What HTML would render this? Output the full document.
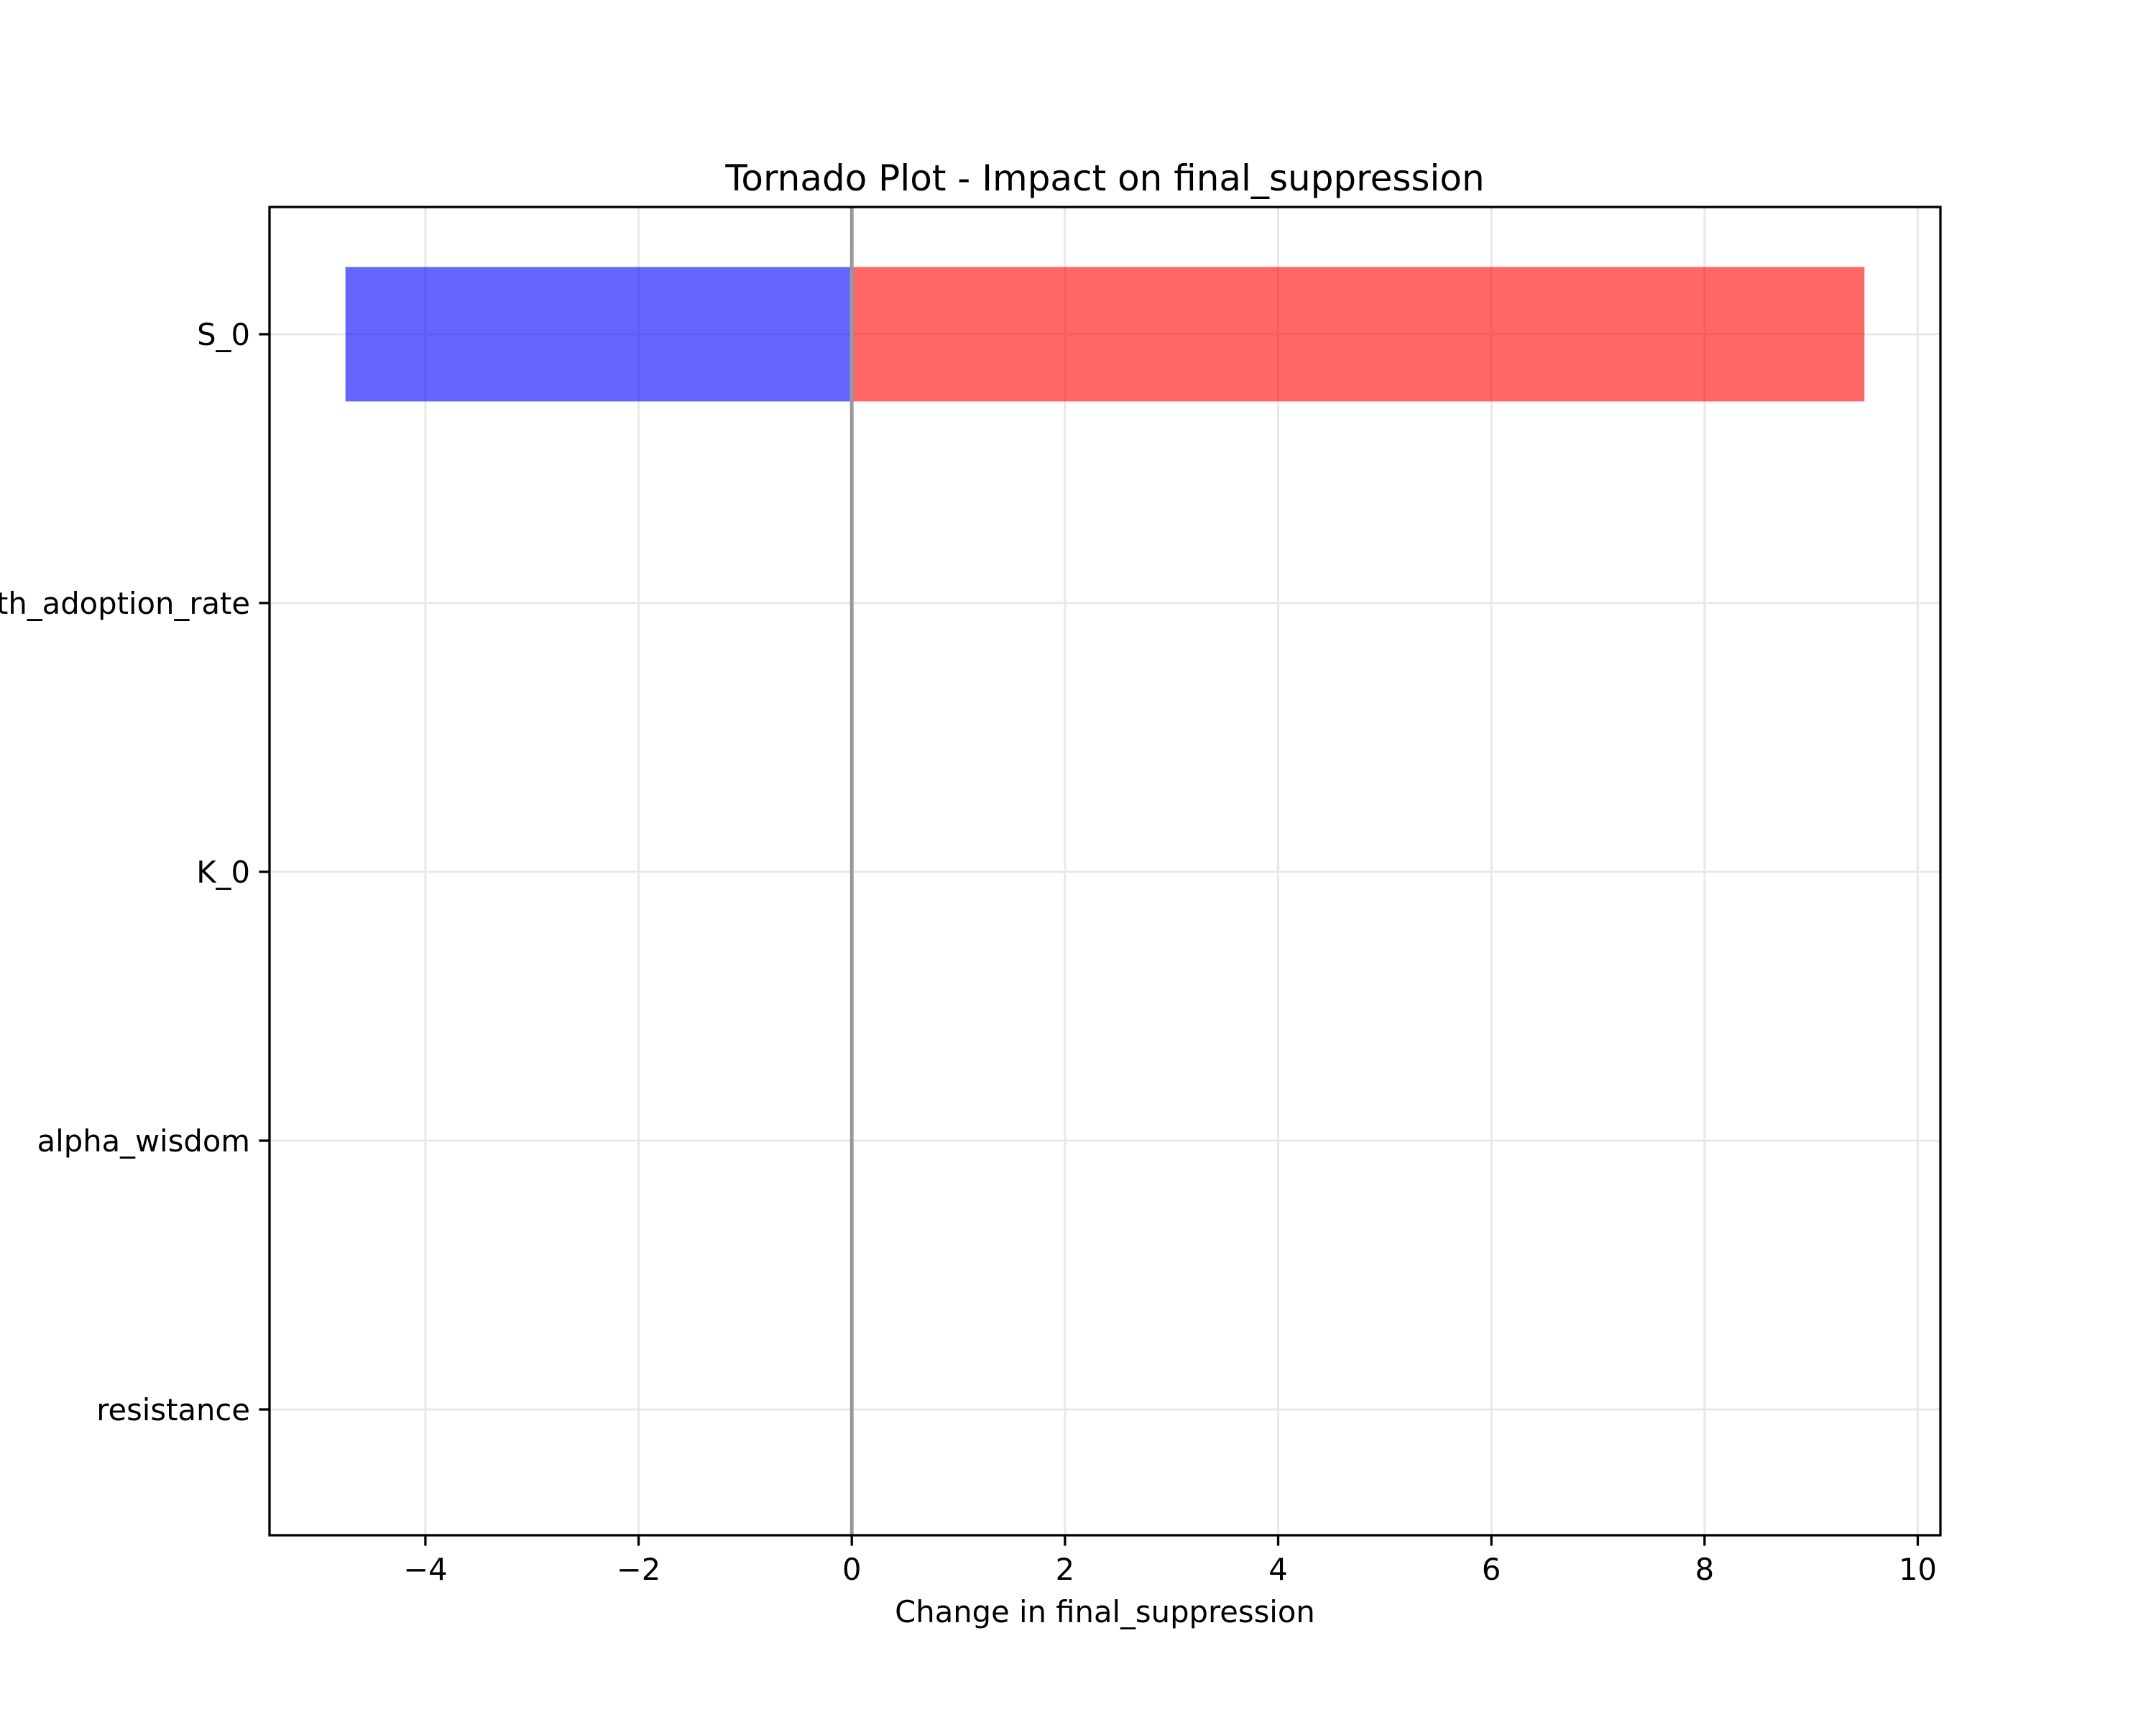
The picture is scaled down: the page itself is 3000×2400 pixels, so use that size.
<!DOCTYPE html>
<html><head><meta charset="utf-8"><style>
html,body{margin:0;padding:0;background:#fff}
svg{display:block}
text{font-family:"DejaVu Sans","Liberation Sans",sans-serif;fill:#000}
</style></head><body>
<svg id="chart" width="3000" height="2400" viewBox="0 0 3000 2400" xmlns="http://www.w3.org/2000/svg">
<rect width="3000" height="2400" fill="#fff"/>
<g id="grid"></g>
<g id="bars"></g>
<g id="axes"></g>
<text x="1537.5" y="265" font-size="50" text-anchor="middle">Tornado Plot - Impact on final_suppression</text>
<text x="1537.5" y="2257" font-size="41.7" text-anchor="middle">Change in final_suppression</text>
</svg>
<script>
const categories = ["S_0", "growth_adoption_rate", "K_0", "alpha_wisdom", "resistance"];
const lowValues = [-4.75, 0, 0, 0, 0];
const highValues = [9.5, 0, 0, 0, 0];
const xTicks = [-4, -2, 0, 2, 4, 6, 8, 10];
const xTickLabels = ["\u22124", "\u22122", "0", "2", "4", "6", "8", "10"];

const L = 375, R = 2700, T = 288, B = 2136;
const xMin = -5.4625, xMax = 10.2125;
const rowTop = 465, rowStep = 374, barH = 187;
const NS = "http://www.w3.org/2000/svg";
function xs(v){ return L + (v - xMin) / (xMax - xMin) * (R - L); }
function ys(i){ return rowTop + i * rowStep; }
function mk(tag, attrs, parent){
  const e = document.createElementNS(NS, tag);
  for (const k in attrs) e.setAttribute(k, attrs[k]);
  parent.appendChild(e); return e;
}
const grid = document.getElementById('grid');
const bars = document.getElementById('bars');
const axes = document.getElementById('axes');

xTicks.forEach((t, i) => {
  const g = mk('line', {x1: xs(t), x2: xs(t), y1: T, y2: B, stroke: '#e8e8e8', 'stroke-width': 3}, grid);
  
  
});
categories.forEach((c, i) => {
  const g = mk('line', {x1: L, x2: R, y1: ys(i), y2: ys(i), stroke: '#e8e8e8', 'stroke-width': 3}, grid);
  
  
});

categories.forEach((c, i) => {
  const lo = lowValues[i], hi = highValues[i];
  const b1 = mk('rect', {x: Math.min(xs(lo), xs(0)), y: ys(i) - barH/2, width: Math.abs(xs(lo) - xs(0)), height: barH, fill: '#0000ff', 'fill-opacity': 0.6}, bars);
  
  
  const b2 = mk('rect', {x: Math.min(xs(hi), xs(0)), y: ys(i) - barH/2, width: Math.abs(xs(hi) - xs(0)), height: barH, fill: '#ff0000', 'fill-opacity': 0.6}, bars);
  
  
});

const zl = mk('line', {x1: xs(0), x2: xs(0), y1: T, y2: B, stroke: '#999', 'stroke-width': 5}, bars);



const frame = mk('rect', {x: L, y: T, width: R - L, height: B - T, fill: 'none', stroke: '#000', 'stroke-width': 3.3}, axes);



xTicks.forEach((t, i) => {
  const tk = mk('line', {x1: xs(t), x2: xs(t), y1: B, y2: B + 14.6, stroke: '#000', 'stroke-width': 3.3}, axes);
  
  
  const lb = mk('text', {x: xs(t), y: 2198, 'font-size': 41.7, 'text-anchor': 'middle'}, axes);
  lb.textContent = xTickLabels[i];
  
  
});
categories.forEach((c, i) => {
  const tk = mk('line', {x1: L - 14.6, x2: L, y1: ys(i), y2: ys(i), stroke: '#000', 'stroke-width': 3.3}, axes);
  
  
  const lb = mk('text', {x: 348, y: ys(i) + 15, 'font-size': 41.7, 'text-anchor': 'end'}, axes);
  lb.textContent = c;
  
  
});
</script>
</body></html>
